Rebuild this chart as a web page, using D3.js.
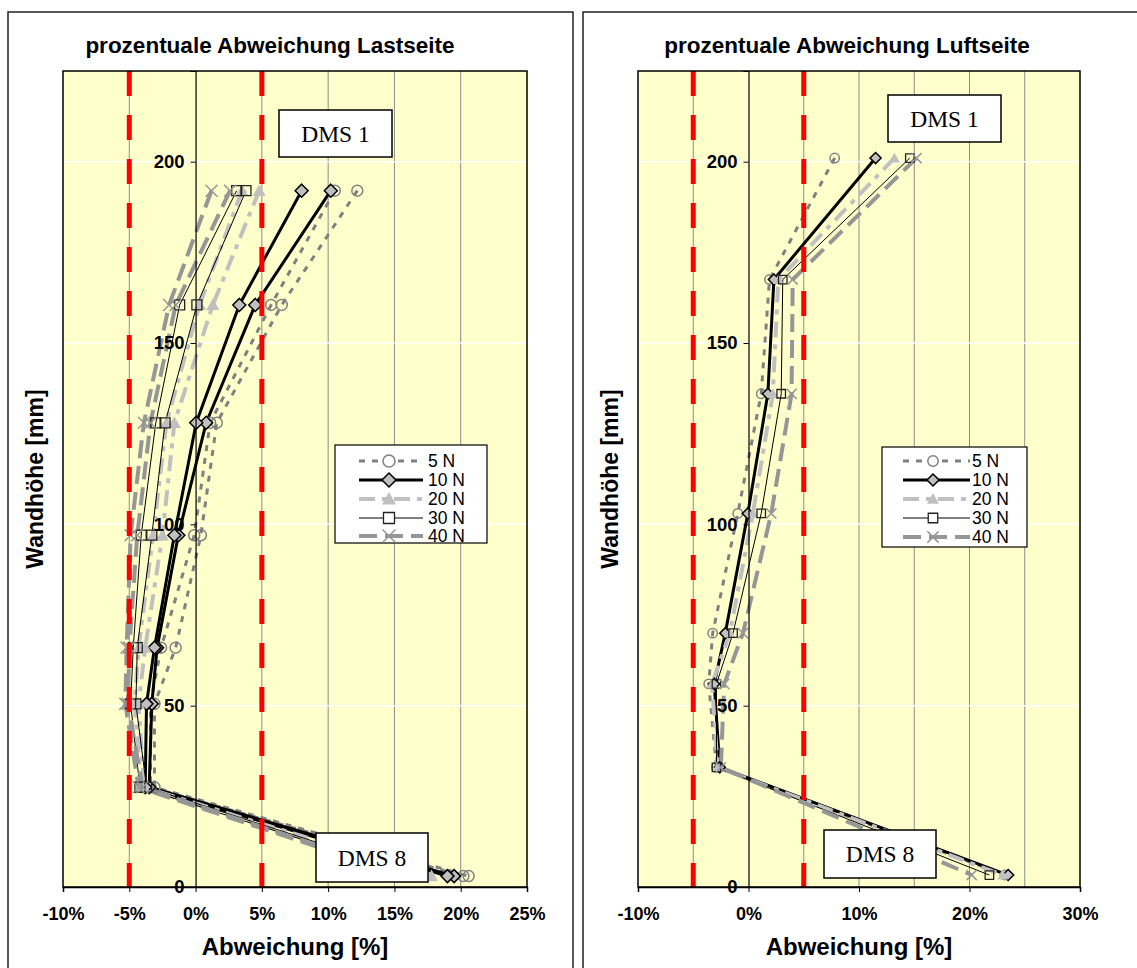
<!DOCTYPE html>
<html>
<head>
<meta charset="utf-8">
<script src="https://cdn.jsdelivr.net/npm/d3@7"></script>
<style>
  body { margin: 0; background: #fff; }
  svg { font-family: "Liberation Sans", Arial, sans-serif; }
</style>
</head>
<body>
<svg id="chart" width="1137" height="968"></svg>
<script>
// Measurement heights of the strain gauges (DMS 1 at the top, DMS 8 at the bottom) [mm]
const heightsLast = [192, 160.5, 128, 97, 66, 50.5, 27.5, 3];
const heightsLuft = [201, 167.5, 136, 103, 70, 56, 33, 3.3];

const forces = ["5 N", "10 N", "20 N", "30 N", "40 N"];

// Percentage deviation, load side (two measurement runs per load)
const last5a  = [12.2, 6.5, 1.6, 0.4, -1.5, -3.1, -3.1, 20.6];
const last5b  = [10.5, 5.7, 1.1, -0.1, -2.6, -3.4, -3.4, 20.2];
const last10a = [10.2, 4.5, 0.8, -1.3, -2.9, -3.3, -3.5, 19.5];
const last10b = [8.0, 3.3, 0.05, -1.6, -3.1, -3.7, -3.8, 19.0];
const last20a = [4.8, 1.3, -1.6, -2.5, -3.8, -4.3, -3.9, 17.8];
const last20b = [3.5, 0.3, -2.2, -3.2, -4.3, -4.6, -4.1, 17.3];
const last30a = [3.8, 0.1, -2.3, -3.3, -4.4, -4.5, -3.7, 17.0];
const last30b = [3.1, -1.2, -3.0, -4.1, -4.7, -4.9, -4.2, 16.6];
const last40a = [2.6, -1.5, -3.4, -4.4, -5.0, -5.1, -4.0, 16.2];
const last40b = [1.2, -2.0, -3.9, -4.9, -5.2, -5.3, -4.3, 15.8];

// Percentage deviation, air side
const luft5  = [7.8, 1.9, 1.15, -0.97, -3.24, -3.6, -2.9, 23.2];
const luft10 = [11.5, 2.3, 1.75, -0.06, -2.1, -3.1, -2.6, 23.5];
const luft20 = [13.2, 2.7, 2.2, 0.4, -1.7, -3.3, -2.8, 23.0];
const luft30 = [14.6, 3.1, 2.96, 1.15, -1.4, -2.9, -2.9, 21.8];
const luft40 = [15.2, 4.0, 3.9, 2.06, -0.5, -2.2, -2.5, 20.2];

// Tolerance band (±5 %)
const toleranceLimits = [-5, 5];

const xTicksLast = [-10, -5, 0, 5, 10, 15, 20, 25];
const xTicksLuft = [-10, 0, 10, 20, 30];
const yTicks = [0, 50, 100, 150, 200];

// ---------- styles ----------
const SANS = '"Liberation Sans", Arial, sans-serif';
const SERIF = '"Liberation Serif", "Times New Roman", serif';

const seriesStyles = [
  { stroke: "#808080", width: 3,   dash: "6,7",        marker: "circle" },
  { stroke: "#000000", width: 3,   dash: null,         marker: "diamond" },
  { stroke: "#C0C0C0", width: 4,   dash: "16,7,5,7",   marker: "triangle" },
  { stroke: "#000000", width: 1,   dash: null,         marker: "square" },
  { stroke: "#969696", width: 4,   dash: "18,8",       marker: "x" }
];
const markerStyles = {
  circle:   { r: 5.5, fill: "none",    stroke: "#808080", sw: 1.5 },
  diamond:  { r: 6.5, fill: "#C0C0C0", stroke: "#000",    sw: 1.5 },
  triangle: { r: 6.5, fill: "#C0C0C0", stroke: "none",    sw: 0 },
  square:   { r: 5,   fill: "none",    stroke: "#222",    sw: 1.3 },
  x:        { r: 6,   fill: "none",    stroke: "#969696", sw: 1.5 }
};
function markerPath(type, r) {
  switch (type) {
    case "circle":   return `M${-r},0a${r},${r} 0 1,0 ${2*r},0a${r},${r} 0 1,0 ${-2*r},0Z`;
    case "diamond":  return `M0,${-r}L${r},0L0,${r}L${-r},0Z`;
    case "triangle": return `M0,${-r}L${r},${r*0.8}L${-r},${r*0.8}Z`;
    case "square":   return `M${-r},${-r}h${2*r}v${2*r}h${-2*r}Z`;
    case "x":        return `M${-r},${-r}L${r},${r}M${r},${-r}L${-r},${r}`;
  }
}

const svg = d3.select("#chart");

const panels = [
  {
    title: "prozentuale Abweichung Lastseite",
    titleX: 270,
    frame: { x: 8, y: 12, w: 565, h: 990 },
    plot: { left: 63, right: 527, top: 71, bottom: 887 },
    xDomain: [-10, 25], xTicks: xTicksLast, gridStep: 5,
    heights: heightsLast,
    values: [[last5a, last5b], [last10a, last10b], [last20a, last20b], [last30a, last30b], [last40a, last40b]],
    markerScale: 1,
    legend: { x: 335, y: 445, w: 152, h: 98, rows: [461, 480, 499, 518, 536], lineX: [359, 423], markX: 389, textX: 428 },
    labels: [
      { text: "DMS 1", x: 279, y: 110, w: 113, h: 47 },
      { text: "DMS 8", x: 316, y: 833, w: 112, h: 49 }
    ]
  },
  {
    title: "prozentuale Abweichung Luftseite",
    titleX: 847,
    frame: { x: 583, y: 12, w: 600, h: 990 },
    plot: { left: 638, right: 1080, top: 71, bottom: 887 },
    xDomain: [-10, 30], xTicks: xTicksLuft, gridStep: 5,
    heights: heightsLuft,
    values: [[luft5], [luft10], [luft20], [luft30], [luft40]],
    markerScale: 0.85,
    legend: { x: 882, y: 447, w: 145, h: 100, rows: [461, 480, 499, 518, 537], lineX: [903, 970], markX: 933, textX: 972 },
    labels: [
      { text: "DMS 1", x: 888, y: 95, w: 113, h: 47 },
      { text: "DMS 8", x: 824, y: 830, w: 112, h: 48 }
    ]
  }
];

panels.forEach(p => {
  const g = svg.append("g");
  const x = d3.scaleLinear().domain(p.xDomain).range([p.plot.left, p.plot.right]);
  const y = d3.scaleLinear().domain([0, 225]).range([p.plot.bottom, p.plot.top]);

  // outer frame
  g.append("rect")
    .attr("x", p.frame.x).attr("y", p.frame.y)
    .attr("width", p.frame.w).attr("height", p.frame.h)
    .attr("fill", "#fff").attr("stroke", "#222").attr("stroke-width", 1.5);

  // title
  g.append("text")
    .attr("x", p.titleX).attr("y", 53)
    .attr("text-anchor", "middle")
    .style("font-family", SANS)
    .attr("font-size", 22.5).attr("font-weight", "bold")
    .text(p.title);

  // plot background
  g.append("rect")
    .attr("x", p.plot.left).attr("y", p.plot.top)
    .attr("width", p.plot.right - p.plot.left).attr("height", p.plot.bottom - p.plot.top)
    .attr("fill", "#FFFFCC");

  // vertical gridlines
  const gridX = d3.range(p.xDomain[0] + p.gridStep, p.xDomain[1], p.gridStep).filter(v => v !== 0);
  g.selectAll(null).data(gridX).join("line")
    .attr("x1", d => x(d)).attr("x2", d => x(d))
    .attr("y1", p.plot.top).attr("y2", p.plot.bottom)
    .attr("stroke", "#8c8c8c").attr("stroke-width", 1);

  // horizontal gridlines
  g.selectAll(null).data(yTicks.filter(v => v > 0)).join("line")
    .attr("x1", p.plot.left).attr("x2", p.plot.right)
    .attr("y1", d => y(d)).attr("y2", d => y(d))
    .attr("stroke", "#fff").attr("stroke-width", 1.5);

  // data series
  const line = d3.line().x(d => x(d.v)).y(d => y(d.h));
  p.values.forEach((runs, i) => {
    const st = seriesStyles[i];
    runs.forEach(vals => {
      const pts = vals.map((v, k) => ({ v, h: p.heights[k] }));
      g.append("path").datum(pts)
        .attr("d", line)
        .attr("fill", "none")
        .attr("stroke", st.stroke).attr("stroke-width", st.width)
        .attr("stroke-dasharray", st.dash)
        .attr("stroke-linejoin", "round");
    });
  });
  p.values.forEach((runs, i) => {
    const st = seriesStyles[i];
    const ms = markerStyles[st.marker];
    runs.forEach(vals => {
      const pts = vals.map((v, k) => ({ v, h: p.heights[k] }));
      g.selectAll(null).data(pts).join("path")
        .attr("transform", d => `translate(${x(d.v)},${y(d.h)})`)
        .attr("d", markerPath(st.marker, ms.r * p.markerScale))
        .attr("fill", ms.fill).attr("stroke", ms.stroke).attr("stroke-width", ms.sw);
    });
  });

  // tolerance limits
  g.selectAll(null).data(toleranceLimits).join("line")
    .attr("x1", d => x(d)).attr("x2", d => x(d))
    .attr("y1", p.plot.top).attr("y2", p.plot.bottom)
    .attr("stroke", "#FF0000").attr("stroke-width", 5)
    .attr("stroke-dasharray", "25,19");

  // plot border
  g.append("rect")
    .attr("x", p.plot.left).attr("y", p.plot.top)
    .attr("width", p.plot.right - p.plot.left).attr("height", p.plot.bottom - p.plot.top)
    .attr("fill", "none").attr("stroke", "#000").attr("stroke-width", 1.5);

  // x axis
  const xAxis = g.append("g")
    .attr("transform", `translate(0,${p.plot.bottom})`)
    .call(d3.axisBottom(x).tickValues(p.xTicks).tickSize(5).tickPadding(15)
      .tickFormat(d => d + "%"));
  xAxis.select(".domain").attr("stroke", "#000").attr("stroke-width", 1.5);
  xAxis.selectAll(".tick line").attr("stroke", "#000");
  xAxis.selectAll(".tick text")
    .attr("font-size", 18).attr("font-weight", "bold").attr("fill", "#000")
    .style("font-family", SANS);

  // y axis at 0 %
  const yAxis = g.append("g")
    .attr("transform", `translate(${x(0)},0)`)
    .call(d3.axisLeft(y).tickValues(yTicks).tickSize(5).tickPadding(6));
  yAxis.select(".domain").attr("stroke", "#000").attr("stroke-width", 1.2);
  yAxis.selectAll(".tick line").attr("stroke", "#000");
  yAxis.selectAll(".tick text")
    .attr("font-size", 18.5).attr("font-weight", "bold").attr("fill", "#000")
    .style("font-family", SANS);

  // axis titles
  g.append("text")
    .attr("x", (p.plot.left + p.plot.right) / 2).attr("y", 955)
    .attr("text-anchor", "middle")
    .style("font-family", SANS)
    .attr("font-size", 24).attr("font-weight", "bold")
    .text("Abweichung [%]");
  g.append("text")
    .attr("transform", `translate(${p.plot.left - 20},${(p.plot.top + p.plot.bottom) / 2}) rotate(-90)`)
    .attr("text-anchor", "middle")
    .style("font-family", SANS)
    .attr("font-size", 23).attr("font-weight", "bold")
    .text("Wandhöhe [mm]");

  // sensor labels
  p.labels.forEach(l => {
    g.append("rect")
      .attr("x", l.x).attr("y", l.y).attr("width", l.w).attr("height", l.h)
      .attr("fill", "#fff").attr("stroke", "#000").attr("stroke-width", 1.5);
    g.append("text")
      .attr("x", l.x + l.w / 2).attr("y", l.y + l.h / 2 + 8)
      .attr("text-anchor", "middle")
      .style("font-family", SERIF)
      .attr("font-size", 23.5)
      .text(l.text);
  });

  // legend
  const lg = p.legend;
  g.append("rect")
    .attr("x", lg.x).attr("y", lg.y).attr("width", lg.w).attr("height", lg.h)
    .attr("fill", "#fff").attr("stroke", "#000").attr("stroke-width", 1.2);
  forces.forEach((f, i) => {
    const st = seriesStyles[i];
    const ms = markerStyles[st.marker];
    const ry = lg.rows[i];
    g.append("line")
      .attr("x1", lg.lineX[0]).attr("x2", lg.lineX[1])
      .attr("y1", ry).attr("y2", ry)
      .attr("stroke", st.stroke).attr("stroke-width", st.width)
      .attr("stroke-dasharray", st.dash);
    g.append("path")
      .attr("transform", `translate(${lg.markX},${ry})`)
      .attr("d", markerPath(st.marker, ms.r * p.markerScale + 0.5))
      .attr("fill", ms.fill === "none" ? "#fff" : ms.fill)
      .attr("stroke", ms.stroke).attr("stroke-width", ms.sw);
    g.append("text")
      .attr("x", lg.textX).attr("y", ry + 6)
      .style("font-family", SANS)
      .attr("font-size", 17.5)
      .text(f);
  });
});
</script>
</body>
</html>
